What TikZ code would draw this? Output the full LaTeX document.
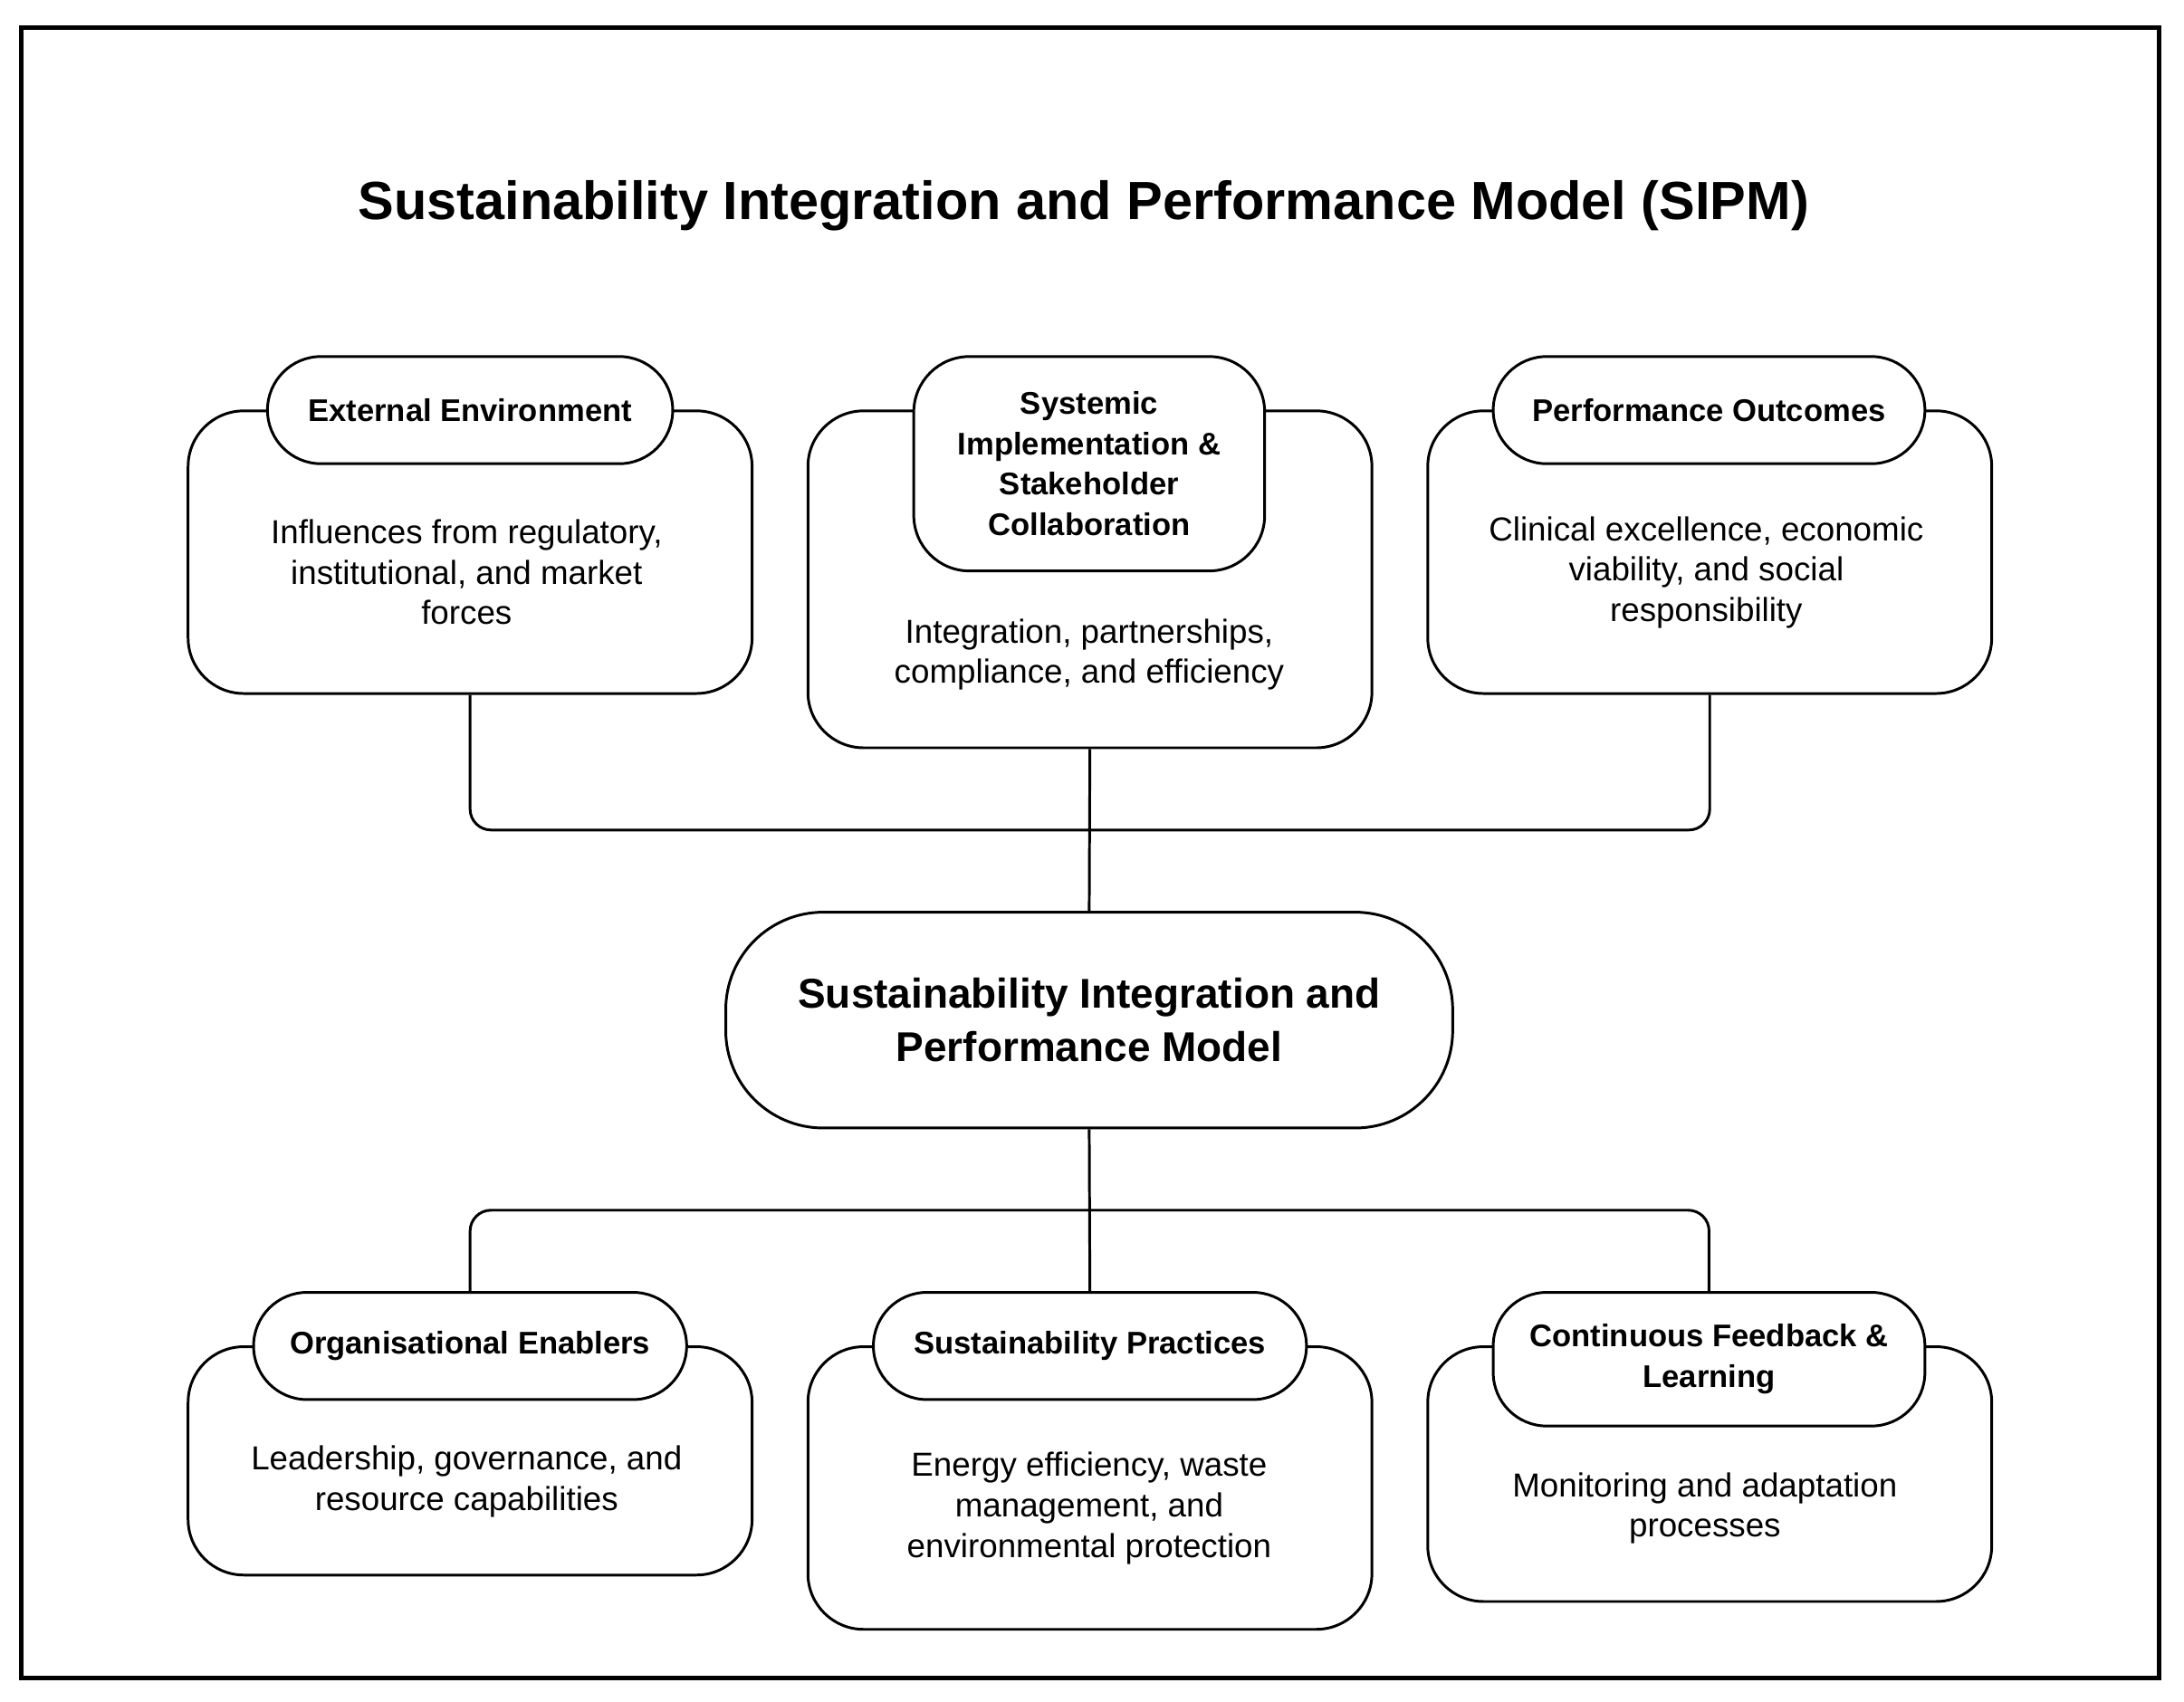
\documentclass[tikz,border=0pt]{standalone}
\usepackage{fontspec}
\setmainfont{Liberation Sans}
\begin{document}
\begin{tikzpicture}[x=0.02cm,y=-0.02cm,
  box/.style={draw,fill=white,line width=1.1pt,rounded corners=0.8cm,inner sep=0pt,minimum width=8.1cm},
  pill/.style={draw,fill=white,line width=1.1pt,rounded corners=0.77cm,inner sep=0pt},
  hd/.style={font=\fontsize{12.8}{16.5}\selectfont\bfseries,align=center},
  bd/.style={font=\fontsize{13.6}{16.5}\selectfont,align=center},
  conn/.style={line width=1.1pt,rounded corners=0.3cm}]
\useasboundingbox (0,0) rectangle (1568,1222);
\draw[line width=1.8pt] (15,20) rectangle (1550,1205);
\node[font=\fontsize{22}{26}\selectfont\bfseries] (title) at (778,148) {Sustainability Integration and Performance Model (SIPM)};
% junctions
\coordinate (jt) at (782,596);
\coordinate (jb) at (782,869);
% boxes
\node[box,minimum height=4.06cm] (eeb) at (337.5,396.5) {};
\node[box,minimum height=4.84cm] (sib) at (782.5,416) {};
\node[box,minimum height=4.06cm] (pob) at (1227.5,396.5) {};
\node[box,minimum height=3.28cm] (oeb) at (337.5,1049) {};
\node[box,minimum height=4.06cm] (spb) at (782.5,1068.5) {};
\node[box,minimum height=3.66cm] (cfb) at (1227.5,1058.5) {};
\node[draw,fill=white,line width=1.1pt,rounded corners=1.4cm,minimum width=10.44cm,minimum height=3.1cm,inner sep=0pt,font=\fontsize{17}{22}\selectfont\bfseries,align=center] (core) at (782,732.5) {Sustainability Integration and\\Performance Model};
% connectors
\draw[conn] (eeb.south) |- (jt) -| (pob.south);
\draw[conn] (sib.south) -- (core.north);
% headers
\node[pill,minimum width=5.82cm,minimum height=1.54cm,hd] (eeh) at (337.5,294.5) {External Environment};
\node[pill,minimum width=5.04cm,minimum height=3.08cm,rounded corners=0.8cm,hd] (sih) at (782,333) {Systemic\\Implementation \&\\Stakeholder\\Collaboration};
\node[pill,minimum width=6.2cm,minimum height=1.54cm,hd] (poh) at (1227,294.5) {Performance Outcomes};
\node[pill,minimum width=6.22cm,minimum height=1.54cm,hd] (oeh) at (337.5,966.5) {Organisational Enablers};
\node[pill,minimum width=6.22cm,minimum height=1.54cm,hd] (sph) at (782.5,966.5) {Sustainability Practices};
\node[pill,minimum width=6.2cm,minimum height=1.92cm,hd] (cfh) at (1227,976) {Continuous Feedback \&\\Learning};
\draw[conn] (core.south) -- (sph.north);
\draw[conn] (oeh.north) |- (jb) -| (cfh.north);
% bodies
\node[bd] (eet) at (335,411) {Influences from regulatory,\\institutional, and market\\forces};
\node[bd] (sit) at (782,470) {Integration, partnerships,\\compliance, and efficiency};
\node[bd] (pot) at (1225,411) {Clinical excellence, economic\\viability, and social\\responsibility};
\node[bd] (oet) at (335,1064) {Leadership, governance, and\\resource capabilities};
\node[bd] (spt) at (782,1083) {Energy efficiency, waste\\management, and\\environmental protection};
\node[bd] (cft) at (1224,1083) {Monitoring and adaptation\\processes};
\end{tikzpicture}
\end{document}
